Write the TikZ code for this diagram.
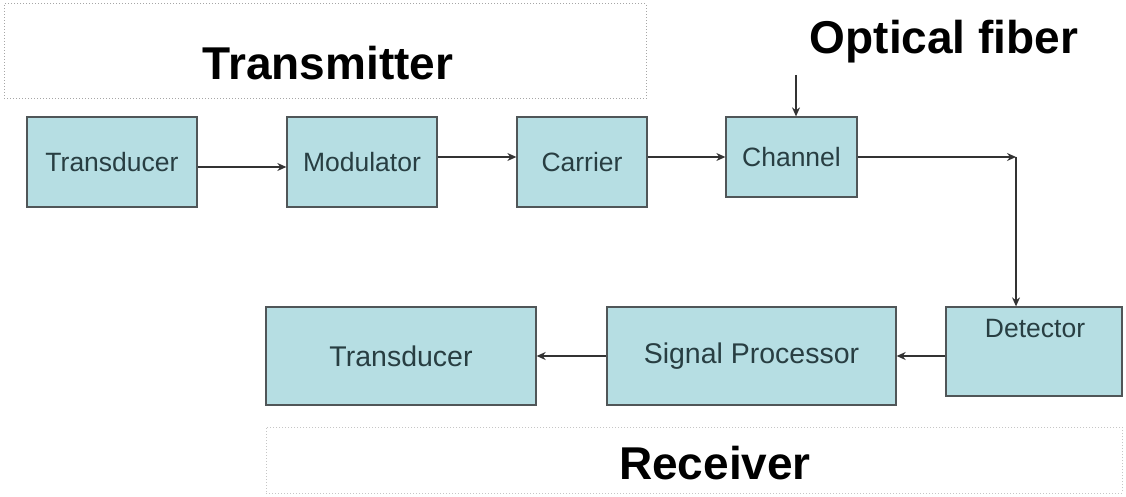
\documentclass[tikz,border=0pt]{standalone}
\usepackage{fontspec}
\setmainfont{Liberation Sans}
\usetikzlibrary{arrows.meta}
\definecolor{boxfill}{RGB}{182,222,227}
\definecolor{boxtext}{RGB}{40,62,66}
\definecolor{boxline}{RGB}{80,86,88}
\tikzset{
  blk/.style={draw=boxline, line width=1.3pt, fill=boxfill, text=boxtext, rectangle, inner sep=0pt},
  stxt/.style={font=\fontsize{26.5}{29}\selectfont},
  btxt/.style={font=\fontsize{28.5}{31}\selectfont},
  title/.style={font=\fontsize{46}{50}\selectfont\bfseries, text=black},
  frame/.style={draw=gray!70, dotted, line width=1pt, rectangle, inner sep=0pt},
  conn/.style={draw=black!80, line width=1.2pt, -{Stealth[length=9pt,width=8pt]}},
}
\begin{document}
\begin{tikzpicture}[x=1pt,y=-1pt]
\useasboundingbox (0,0) rectangle (1126,497);
% frames
\node[frame, minimum width=642pt, minimum height=95pt] (tx) at (325,51.5) {};
\node[title] (txt) at (328,63) {Transmitter};
\node[frame, draw=gray!45, minimum width=856pt, minimum height=66pt] (rx) at (694,460) {};
\node[title] (rxt) at (715,463) {Receiver};
\node[title] (of) at (944,42) {Optical fiber};
% top row
\node[blk, stxt, minimum width=170pt, minimum height=90pt] (td1) at (112,162) {Transducer};
\node[blk, stxt, minimum width=150pt, minimum height=90pt] (mod) at (362,162) {Modulator};
\node[blk, stxt, minimum width=130pt, minimum height=90pt] (car) at (582,162) {Carrier};
\node[blk, stxt, minimum width=131pt, minimum height=80pt] (ch) at (791.5,157) {Channel};
% bottom row
\node[blk, minimum width=176pt, minimum height=89pt] (det) at (1034,351.5) {};
\node[stxt, text=boxtext] (dett) at (1035,329) {Detector};
\node[blk, btxt, minimum width=289pt, minimum height=98pt] (sp) at (751.5,356) {Signal Processor};
\node[blk, btxt, minimum width=270pt, minimum height=98pt] (td2) at (401,356) {Transducer};
% connectors
\coordinate (ofa) at (796,75);
\coordinate (corner) at (1016,157);
\draw[conn] (ofa) -- (ofa |- ch.north);
\draw[conn] (td1.east |- 0,167) -- (mod.west |- 0,167);
\draw[conn] (mod.east |- 0,157) -- (car.west |- 0,157);
\draw[conn] (car.east |- 0,157) -- (ch.west |- 0,157);
\draw[conn] (ch.east |- corner) -- (corner);
\draw[conn] (corner) -- (corner |- det.north);
\draw[conn] (det.west |- 0,356) -- (sp.east |- 0,356);
\draw[conn] (sp.west |- 0,356) -- (td2.east |- 0,356);
\end{tikzpicture}
\end{document}
